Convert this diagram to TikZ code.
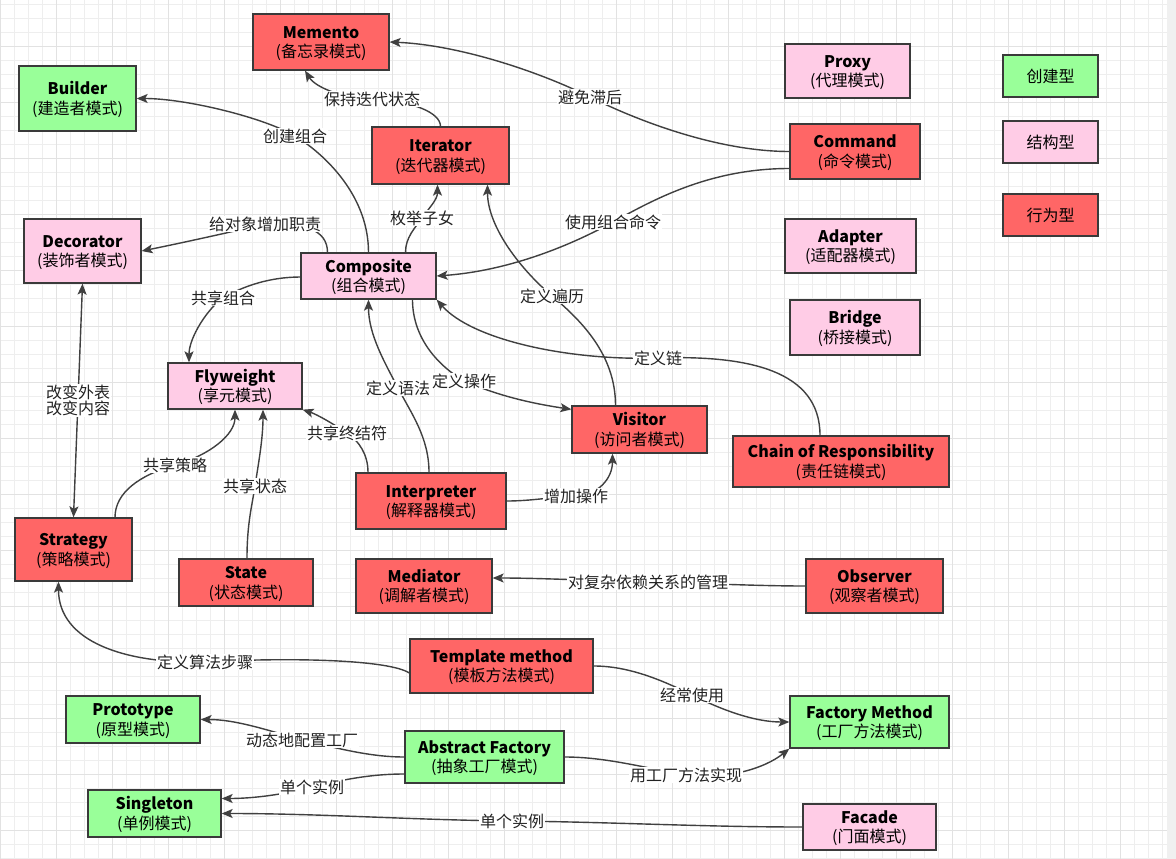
\documentclass[tikz,border=0pt]{standalone}
\usepackage{fontspec}
\setmainfont{Noto Sans CJK SC}
\usetikzlibrary{arrows.meta,calc}

\definecolor{behav}{HTML}{FF6666}
\definecolor{creat}{HTML}{99FF99}
\definecolor{struc}{HTML}{FFCCE6}
\definecolor{boxline}{HTML}{3A3A3A}
\definecolor{conncol}{HTML}{404040}
\definecolor{lbltext}{HTML}{222222}
\definecolor{gridminor}{HTML}{EEEEEE}
\definecolor{gridmajor}{HTML}{E2E2E2}
\definecolor{edgestrip}{HTML}{F0F0F0}

\pgfdeclarelayer{paper}
\pgfdeclarelayer{wires}
\pgfsetlayers{paper,wires,main}

% pattern box text: bold English name over Chinese name
\newcommand\patname[2]{\rule{0pt}{15.5pt}\textbf{#1}\\(#2)}

\begin{document}
\begin{tikzpicture}[x=1pt,y=-1pt,
  box/.style={draw=boxline, line width=1.3pt, align=center, inner sep=0pt,
    font=\fontsize{16}{19.5}\selectfont, text=black},
  bhv/.style={box, fill=behav},
  crt/.style={box, fill=creat},
  str/.style={box, fill=struc},
  lbl/.style={fill=white, inner sep=1pt, text=lbltext,
    font=\fontsize{16}{18.5}\selectfont, align=center},
  conn/.style={draw=conncol, line width=1.4pt,
    -{Stealth[length=11pt,width=9pt,inset=2.5pt]}},
  both/.style={draw=conncol, line width=1.4pt,
    {Stealth[length=11pt,width=9pt,inset=2.5pt]}-{Stealth[length=11pt,width=9pt,inset=2.5pt]}}
]
\useasboundingbox (0,0) rectangle (1176,859);

% ---- grid paper ----
\begin{pgfonlayer}{paper}
\fill[white] (0,0) rectangle (1176,859);
\draw[gridminor, line width=0.8pt]
  \foreach \x in {0,14,...,1162} {(\x,0) -- (\x,859)}
  \foreach \y in {4,18,...,858} {(0,\y) -- (1167,\y)};
\draw[gridmajor, line width=0.9pt]
  \foreach \x in {0,56,...,1120} {(\x,0) -- (\x,859)}
  \foreach \y in {46,102,...,830} {(0,\y) -- (1167,\y)};
\fill[edgestrip] (1167,0) rectangle (1176,859);
\end{pgfonlayer}

% ---- pattern boxes ----
\node[bhv, minimum width=136pt, minimum height=56pt] (memento) at (321,42) {\patname{Memento}{备忘录模式}};
\node[crt, minimum width=117pt, minimum height=65pt] (builder) at (77.5,98.5) {\patname{Builder}{建造者模式}};
\node[bhv, minimum width=137pt, minimum height=57pt] (iter) at (440.5,155.5) {\patname{Iterator}{迭代器模式}};
\node[str, minimum width=125pt, minimum height=54pt] (proxy) at (847.5,71) {\patname{Proxy}{代理模式}};
\node[bhv, minimum width=130pt, minimum height=55pt] (command) at (855,151.5) {\patname{Command}{命令模式}};
\node[str, minimum width=117pt, minimum height=64pt] (decor) at (82.5,251) {\patname{Decorator}{装饰者模式}};
\node[str, minimum width=135pt, minimum height=46pt] (comp) at (368.5,276) {\patname{Composite}{组合模式}};
\node[str, minimum width=131pt, minimum height=54pt] (adapter) at (850.5,246) {\patname{Adapter}{适配器模式}};
\node[str, minimum width=130pt, minimum height=55pt] (bridge) at (855,327.5) {\patname{Bridge}{桥接模式}};
\node[str, minimum width=134pt, minimum height=46pt] (fly) at (235,386) {\patname{Flyweight}{享元模式}};
\node[bhv, minimum width=135pt, minimum height=47pt] (visitor) at (639.5,429.5) {\patname{Visitor}{访问者模式}};
\node[bhv, minimum width=216pt, minimum height=51pt] (chain) at (841,461.5) {\patname{Chain of Responsibility}{责任链模式}};
\node[bhv, minimum width=150pt, minimum height=56pt] (interp) at (431,501) {\patname{Interpreter}{解释器模式}};
\node[bhv, minimum width=117pt, minimum height=63pt] (strategy) at (73.5,549.5) {\patname{Strategy}{策略模式}};
\node[bhv, minimum width=134pt, minimum height=47pt] (state) at (246,582.5) {\patname{State}{状态模式}};
\node[bhv, minimum width=136pt, minimum height=54pt] (mediator) at (424,586) {\patname{Mediator}{调解者模式}};
\node[bhv, minimum width=137pt, minimum height=54pt] (observer) at (874.5,586) {\patname{Observer}{观察者模式}};
\node[bhv, minimum width=183pt, minimum height=54pt] (template) at (501.5,666) {\patname{Template method}{模板方法模式}};
\node[crt, minimum width=134pt, minimum height=47pt] (proto) at (133,719.5) {\patname{Prototype}{原型模式}};
\node[crt, minimum width=159pt, minimum height=52pt] (factory) at (869.5,722) {\patname{Factory Method}{工厂方法模式}};
\node[crt, minimum width=159pt, minimum height=52pt] (abstract) at (484.5,757) {\patname{Abstract Factory}{抽象工厂模式}};
\node[crt, minimum width=133pt, minimum height=47pt] (single) at (154.5,813.5) {\patname{Singleton}{单例模式}};
\node[str, minimum width=133pt, minimum height=46pt] (facade) at (869.5,827) {\patname{Facade}{门面模式}};

% ---- legend ----
\node[crt, minimum width=95pt, minimum height=42pt] (legc) at (1050.5,76) {创建型};
\node[str, minimum width=95pt, minimum height=42pt] (legs) at (1050.5,142) {结构型};
\node[bhv, minimum width=95pt, minimum height=42pt] (legb) at (1050.5,215) {行为型};

% ---- connector labels ----
\node[lbl] (t1) at (295,136) {创建组合};
\node[lbl] (t2) at (372,99) {保持迭代状态};
\node[lbl] (t3) at (590,97) {避免滞后};
\node[lbl] (t4) at (613,222) {使用组合命令};
\node[lbl] (t5) at (422,218) {枚举子女};
\node[lbl] (t6) at (552,296) {定义遍历};
\node[lbl] (t7) at (265,224) {给对象增加职责};
\node[lbl] (t8) at (223,298) {共享组合};
\node[lbl] (t10) at (175,465) {共享策略};
\node[lbl] (t11) at (255,486) {共享状态};
\node[lbl] (t12) at (347,433) {共享终结符};
\node[lbl] (t13) at (398,388) {定义语法};
\node[lbl] (t14) at (464,381) {定义操作};
\node[lbl] (t15) at (658,358) {定义链};
\node[lbl] (t16) at (576,496) {增加操作};
\node[lbl] (t17) at (648,582) {对复杂依赖关系的管理};
\node[lbl] (t18) at (205,662) {定义算法步骤};
\node[lbl] (t19) at (692,695) {经常使用};
\node[lbl] (t20) at (686,775) {用工厂方法实现};
\node[lbl] (t21) at (302,740) {动态地配置工厂};
\node[lbl] (t22) at (312,787) {单个实例};
\node[lbl] (t23) at (512,821) {单个实例};

% ---- connectors ----
\begin{pgfonlayer}{wires}
\draw[conn] (comp.north) .. controls +(0,-60) and +(25,15) .. (t1.center)
  .. controls +(-30,-18) and +(50,0) .. (builder.east);
\draw[conn] (iter.north) .. controls +(0,-14) and +(40,2) .. (t2.center)
  .. controls +(-40,-2) and +(8,13) .. ([xshift=-16pt]memento.south);
\draw[conn] (command.west) .. controls +(-70,0) and +(50,25) .. (t3.center)
  .. controls +(-50,-25) and +(70,3) .. (memento.east);
\draw[conn] ([yshift=-17pt]command.west) .. controls +(-80,0) and +(40,-22) .. (t4.center)
  .. controls +(-45,25) and +(70,-5) .. (comp.east);
\draw[conn] ([xshift=37pt]comp.north) .. controls +(0,-15) and +(-7,10) .. (t5.center)
  .. controls +(7,-10) and +(0,15) .. ([xshift=-3pt]iter.south);
\draw[conn] ([xshift=-24pt]visitor.north) .. controls +(0,-50) and +(30,25) .. (t6.center)
  .. controls +(-35,-30) and +(0,40) .. ([xshift=47pt]iter.south);
\draw[conn] ([xshift=-41pt]comp.north) .. controls +(0,-22) and +(40,-2) .. (t7.center)
  .. controls +(-25,6) and +(40,-8) .. (decor.east);
\draw[conn] ([yshift=-1pt]comp.west) .. controls +(-30,0) and +(20,-12) .. (t8.center)
  .. controls +(-15,10) and +(0,-25) .. ([xshift=-46pt]fly.north);
\draw[both] (decor.south) -- node[lbl] (t9) {改变外表\\[-2pt]改变内容} (strategy.north);
\draw[conn] ([xshift=41.5pt]strategy.north) .. controls +(0,-25) and +(-35,10) .. (t10.center)
  .. controls +(35,-10) and +(0,25) .. (fly.south);
\draw[conn] ([xshift=1pt]state.north) .. controls +(0,-35) and +(-3,20) .. (t11.center)
  .. controls +(3,-20) and +(0,30) .. ([xshift=28pt]fly.south);
\draw[conn] ([xshift=-63pt]interp.north) .. controls +(0,-18) and +(12,8) .. (t12.center)
  .. controls +(-12,-8) and +(15,5) .. (fly.south east);
\draw[conn] ([xshift=-2pt]interp.north) .. controls +(0,-35) and +(13,25) .. (t13.center)
  .. controls +(-13,-25) and +(0,35) .. (comp.south);
\draw[conn] ([xshift=44pt]comp.south) .. controls +(0,35) and +(-30,-18) .. (t14.center)
  .. controls +(35,15) and +(-40,-6) .. ([yshift=-4pt]visitor.north west);
\draw[conn] ([xshift=-21pt]chain.north) .. controls +(0,-65) and +(90,-3) .. (t15.center)
  .. controls +(-90,3) and +(35,40) .. (comp.south east);
\draw[conn] (interp.east) .. controls +(25,0) and +(-25,1) .. (t16.center)
  .. controls +(22,-1) and +(0,25) .. ([xshift=-27pt]visitor.south);
\draw[conn] (observer.west) .. controls +(-50,0) and +(50,1) .. (t17.center)
  .. controls +(-50,-1) and +(50,0) .. ([yshift=8pt]mediator.east);
\draw[conn] ([yshift=-7pt]template.west) .. controls +(-20,-13) and +(90,-5) .. (t18.center)
  .. controls +(-80,2) and +(0,60) .. ([xshift=-15pt]strategy.south);
\draw[conn] (template.east) .. controls +(35,0) and +(-30,-15) .. (t19.center)
  .. controls +(30,15) and +(-35,0) .. (factory.west);
\draw[conn] (abstract.east) .. controls +(40,0) and +(-45,-8) .. (t20.center)
  .. controls +(40,5) and +(-25,20) .. (factory.south west);
\draw[conn] (abstract.west) .. controls +(-35,0) and +(35,8) .. (t21.center)
  .. controls +(-35,-10) and +(35,0) .. (proto.east);
\draw[conn] ([yshift=-17pt]abstract.west) .. controls +(-35,0) and +(30,-7) .. (t22.center)
  .. controls +(-30,8) and +(30,0) .. ([yshift=15pt]single.east);
\draw[conn] (facade.west) .. controls +(-100,0) and +(100,1) .. (t23.center)
  .. controls +(-100,-1) and +(100,0) .. (single.east);
\end{pgfonlayer}
\end{tikzpicture}
\end{document}
